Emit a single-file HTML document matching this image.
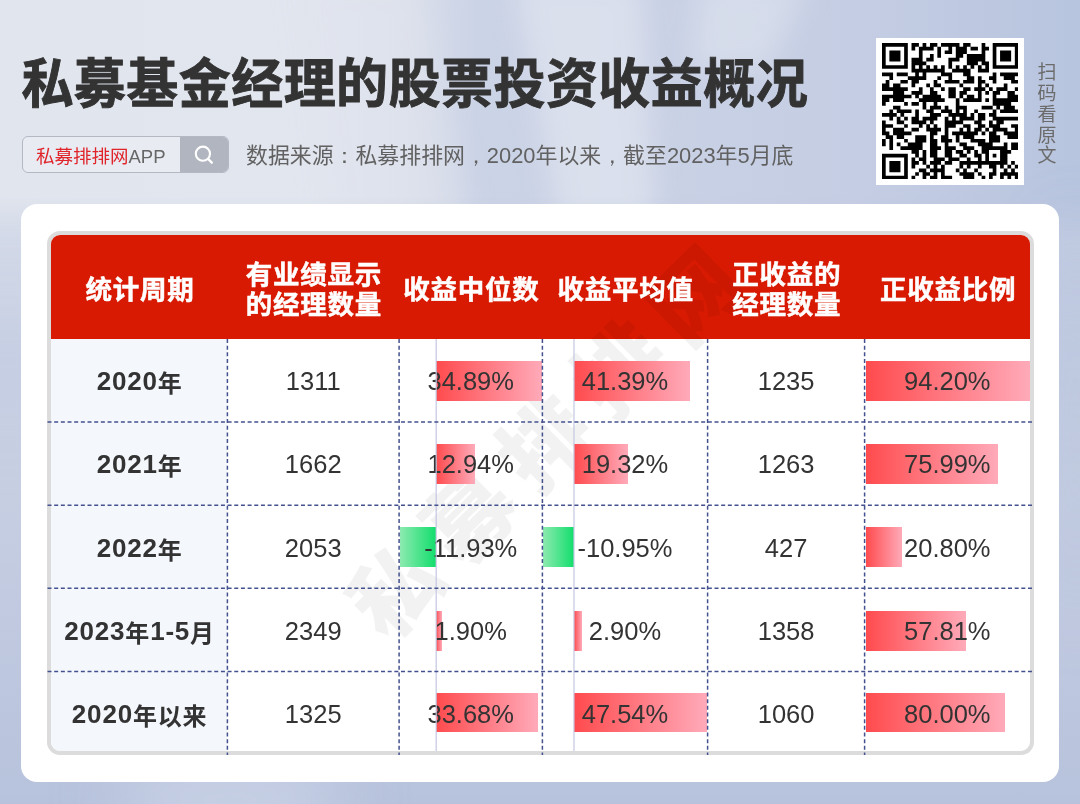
<!DOCTYPE html>
<html lang="zh-CN">
<head>
<meta charset="utf-8">
<title>私募基金经理的股票投资收益概况</title>
<style>
*{margin:0;padding:0;box-sizing:border-box;}
html,body{width:1080px;height:804px;overflow:hidden;}
body{position:relative;font-family:"Liberation Sans","Noto Sans CJK SC",sans-serif;color:#333;
background:#c8d0e3;}
.abs{position:absolute;}
.p{font-family:"WenQuanYi Zen Hei",sans-serif;}
#title{left:21.4px;top:47px;font-size:52px;font-weight:bold;-webkit-text-stroke:0.9px #333;line-height:72px;white-space:nowrap;color:#333;letter-spacing:0.45px;transform:scaleY(1.037);transform-origin:0 0;}
#search{left:22px;top:136px;width:207px;height:37px;border:1px solid #b3b8c3;border-radius:6px;background:#e8ebf2;overflow:hidden;}
#search .t{position:absolute;left:13px;top:3px;line-height:34px;font-size:18.5px;color:#666;white-space:nowrap;}
#search .t b{font-weight:normal;color:#e0242a;}
#search .btn{position:absolute;right:0;top:0;width:48px;height:35px;background:#b0b5bf;}
#src{left:246px;top:140px;font-size:21.9px;line-height:32px;color:#616161;white-space:nowrap;}
#qr{left:876px;top:38px;width:148px;height:147px;background:#fff;}
#scan{left:1036px;top:63px;width:22px;font-size:19px;line-height:20.85px;color:#6b6b6b;text-align:center;}
#card{left:21px;top:204px;width:1037.5px;height:578px;background:#fff;border-radius:16px;}
#tbl{left:47px;top:231px;width:987px;height:524px;border:4px solid #dcdcdc;border-radius:13px;overflow:hidden;background:#fff;}
#hdr{left:0;top:0;width:979px;height:104px;background:#d81a02;}
.h{position:absolute;top:235px;height:104px;display:flex;align-items:center;justify-content:center;text-align:center;color:#fff;font-weight:bold;-webkit-text-stroke:0.5px #fff;font-size:26.5px;line-height:29.5px;letter-spacing:0.75px;padding-top:7.4px;padding-left:1.5px;}
.c1bg{position:absolute;left:0;top:104px;width:176px;height:420px;background:#f4f7fc;}
.cell{position:absolute;height:40px;padding-top:2px;display:flex;align-items:center;justify-content:center;font-size:25.5px;color:#333;white-space:nowrap;}
.lab{font-weight:bold;font-size:26px;letter-spacing:0.8px;padding-left:0.8px;}
.lab i{font-style:normal;font-size:24px;}
.bar{position:absolute;height:40px;}
.r{background:linear-gradient(90deg,#ff4b4e,#ffaab9);}
.g{background:linear-gradient(90deg,#8deab0,#12de6c);}
#wm{left:541px;top:439px;transform:translate(-50%,-50%) rotate(-44.5deg);font-size:88px;font-weight:900;letter-spacing:17px;color:rgba(0,0,0,0.05);white-space:nowrap;line-height:1;padding-left:17px;font-family:"Noto Sans CJK SC",sans-serif;}
</style>
</head>
<body>
<!--BG--><svg class="abs" style="left:0;top:0;" width="1080" height="804" viewBox="0 0 1080 804">
<defs>
<linearGradient id="gh" x1="0" x2="1" y1="0" y2="0">
<stop offset="0" stop-color="#e1e5ee"/><stop offset="0.3" stop-color="#e2e6ef"/><stop offset="0.37" stop-color="#dce1ec"/><stop offset="0.44" stop-color="#cbd3e6"/><stop offset="0.62" stop-color="#c9d1e5"/><stop offset="0.8" stop-color="#c4cde3"/><stop offset="0.93" stop-color="#bcc7e0"/><stop offset="1" stop-color="#b8c5df"/>
</linearGradient>
<linearGradient id="gv" x1="0" x2="0" y1="0" y2="1">
<stop offset="0" stop-color="#c0cae0" stop-opacity="0"/><stop offset="0.245" stop-color="#c0cae0" stop-opacity="0"/><stop offset="0.3" stop-color="#c8d0e3" stop-opacity="0.6"/><stop offset="0.44" stop-color="#c4cde2" stop-opacity="0.95"/><stop offset="0.62" stop-color="#c6cee2" stop-opacity="1"/><stop offset="1" stop-color="#b7c2dc" stop-opacity="1"/>
</linearGradient>
<filter id="bl" x="-50%" y="-50%" width="200%" height="200%"><feGaussianBlur stdDeviation="14"/></filter>
<filter id="bl2" x="-50%" y="-50%" width="200%" height="200%"><feGaussianBlur stdDeviation="30"/></filter>
</defs>
<rect width="1080" height="804" fill="url(#gh)"/>
<g filter="url(#bl)">
<polygon points="515,-20 640,-20 655,230 560,230" fill="#e6eaf2" opacity="0.6"/>
<polygon points="700,-20 810,-20 770,70 690,70" fill="#e6eaf2" opacity="0.45"/>
<polygon points="300,-20 420,-20 470,230 330,230" fill="#e0e4ee" opacity="0.5"/>
</g>
<rect width="1080" height="804" fill="url(#gv)"/>
<g filter="url(#bl2)">
<ellipse cx="230" cy="800" rx="120" ry="30" fill="#d0d8ea" opacity="0.8"/>
<ellipse cx="1075" cy="420" rx="20" ry="200" fill="#b3bfda" opacity="0.6"/>
</g>
</svg><!--/BG-->
<div id="title" class="abs">私募基金经理的股票投资收益概况</div>
<div id="search" class="abs"><div class="t"><b>私募排排网</b>APP</div><div class="btn">
<svg width="48" height="35" viewBox="0 0 48 35"><circle cx="22.9" cy="16.7" r="7.1" fill="none" stroke="#fff" stroke-width="2.1"/><line x1="28.2" y1="22" x2="31.8" y2="25.7" stroke="#fff" stroke-width="2.4" stroke-linecap="round"/></svg></div></div>
<div id="src" class="abs">数据来源<span class="p">：</span>私募排排网<span class="p">，</span>2020年以来<span class="p">，</span>截至2023年5月底</div>
<div id="qr" class="abs"></div>
<!--QR--><svg class="abs" style="left:881.8px;top:42.8px;" width="136.53" height="136.53" viewBox="0 0 136.53 136.53"><path fill="#000" d="M0.00 0.00h25.83v3.69h-25.83zM29.52 0.00h7.38v3.69h-7.38zM40.59 0.00h3.69v3.69h-3.69zM47.97 0.00h7.38v3.69h-7.38zM59.04 0.00h18.45v3.69h-18.45zM81.18 0.00h7.38v3.69h-7.38zM99.63 0.00h3.69v3.69h-3.69zM110.70 0.00h25.83v3.69h-25.83zM0.00 3.69h3.69v3.69h-3.69zM22.14 3.69h3.69v3.69h-3.69zM29.52 3.69h3.69v3.69h-3.69zM36.90 3.69h14.76v3.69h-14.76zM55.35 3.69h3.69v3.69h-3.69zM66.42 3.69h3.69v3.69h-3.69zM73.80 3.69h11.07v3.69h-11.07zM88.56 3.69h7.38v3.69h-7.38zM99.63 3.69h7.38v3.69h-7.38zM110.70 3.69h3.69v3.69h-3.69zM132.84 3.69h3.69v3.69h-3.69zM0.00 7.38h3.69v3.69h-3.69zM7.38 7.38h11.07v3.69h-11.07zM22.14 7.38h3.69v3.69h-3.69zM36.90 7.38h3.69v3.69h-3.69zM55.35 7.38h3.69v3.69h-3.69zM62.73 7.38h7.38v3.69h-7.38zM73.80 7.38h11.07v3.69h-11.07zM99.63 7.38h3.69v3.69h-3.69zM110.70 7.38h3.69v3.69h-3.69zM118.08 7.38h11.07v3.69h-11.07zM132.84 7.38h3.69v3.69h-3.69zM0.00 11.07h3.69v3.69h-3.69zM7.38 11.07h11.07v3.69h-11.07zM22.14 11.07h3.69v3.69h-3.69zM36.90 11.07h3.69v3.69h-3.69zM47.97 11.07h3.69v3.69h-3.69zM55.35 11.07h3.69v3.69h-3.69zM73.80 11.07h7.38v3.69h-7.38zM84.87 11.07h18.45v3.69h-18.45zM110.70 11.07h3.69v3.69h-3.69zM118.08 11.07h11.07v3.69h-11.07zM132.84 11.07h3.69v3.69h-3.69zM0.00 14.76h3.69v3.69h-3.69zM7.38 14.76h11.07v3.69h-11.07zM22.14 14.76h3.69v3.69h-3.69zM29.52 14.76h11.07v3.69h-11.07zM44.28 14.76h7.38v3.69h-7.38zM66.42 14.76h11.07v3.69h-11.07zM84.87 14.76h18.45v3.69h-18.45zM110.70 14.76h3.69v3.69h-3.69zM118.08 14.76h11.07v3.69h-11.07zM132.84 14.76h3.69v3.69h-3.69zM0.00 18.45h3.69v3.69h-3.69zM22.14 18.45h3.69v3.69h-3.69zM29.52 18.45h14.76v3.69h-14.76zM66.42 18.45h3.69v3.69h-3.69zM84.87 18.45h11.07v3.69h-11.07zM99.63 18.45h7.38v3.69h-7.38zM110.70 18.45h3.69v3.69h-3.69zM132.84 18.45h3.69v3.69h-3.69zM0.00 22.14h25.83v3.69h-25.83zM29.52 22.14h3.69v3.69h-3.69zM36.90 22.14h3.69v3.69h-3.69zM44.28 22.14h3.69v3.69h-3.69zM51.66 22.14h3.69v3.69h-3.69zM59.04 22.14h3.69v3.69h-3.69zM66.42 22.14h3.69v3.69h-3.69zM73.80 22.14h3.69v3.69h-3.69zM81.18 22.14h3.69v3.69h-3.69zM88.56 22.14h3.69v3.69h-3.69zM95.94 22.14h3.69v3.69h-3.69zM103.32 22.14h3.69v3.69h-3.69zM110.70 22.14h25.83v3.69h-25.83zM29.52 25.83h33.21v3.69h-33.21zM70.11 25.83h18.45v3.69h-18.45zM95.94 25.83h11.07v3.69h-11.07zM0.00 29.52h11.07v3.69h-11.07zM14.76 29.52h11.07v3.69h-11.07zM33.21 29.52h3.69v3.69h-3.69zM40.59 29.52h3.69v3.69h-3.69zM59.04 29.52h11.07v3.69h-11.07zM81.18 29.52h7.38v3.69h-7.38zM110.70 29.52h3.69v3.69h-3.69zM118.08 29.52h18.45v3.69h-18.45zM7.38 33.21h3.69v3.69h-3.69zM25.83 33.21h18.45v3.69h-18.45zM55.35 33.21h3.69v3.69h-3.69zM66.42 33.21h3.69v3.69h-3.69zM84.87 33.21h7.38v3.69h-7.38zM95.94 33.21h3.69v3.69h-3.69zM107.01 33.21h7.38v3.69h-7.38zM121.77 33.21h11.07v3.69h-11.07zM3.69 36.90h3.69v3.69h-3.69zM18.45 36.90h7.38v3.69h-7.38zM29.52 36.90h7.38v3.69h-7.38zM51.66 36.90h3.69v3.69h-3.69zM62.73 36.90h14.76v3.69h-14.76zM81.18 36.90h11.07v3.69h-11.07zM95.94 36.90h7.38v3.69h-7.38zM110.70 36.90h3.69v3.69h-3.69zM129.15 36.90h7.38v3.69h-7.38zM0.00 40.59h7.38v3.69h-7.38zM11.07 40.59h7.38v3.69h-7.38zM29.52 40.59h3.69v3.69h-3.69zM44.28 40.59h3.69v3.69h-3.69zM51.66 40.59h7.38v3.69h-7.38zM77.49 40.59h3.69v3.69h-3.69zM95.94 40.59h3.69v3.69h-3.69zM103.32 40.59h3.69v3.69h-3.69zM121.77 40.59h3.69v3.69h-3.69zM0.00 44.28h25.83v3.69h-25.83zM36.90 44.28h3.69v3.69h-3.69zM47.97 44.28h3.69v3.69h-3.69zM59.04 44.28h3.69v3.69h-3.69zM66.42 44.28h7.38v3.69h-7.38zM81.18 44.28h7.38v3.69h-7.38zM92.25 44.28h11.07v3.69h-11.07zM107.01 44.28h3.69v3.69h-3.69zM114.39 44.28h11.07v3.69h-11.07zM132.84 44.28h3.69v3.69h-3.69zM11.07 47.97h11.07v3.69h-11.07zM29.52 47.97h11.07v3.69h-11.07zM47.97 47.97h7.38v3.69h-7.38zM66.42 47.97h7.38v3.69h-7.38zM77.49 47.97h7.38v3.69h-7.38zM95.94 47.97h3.69v3.69h-3.69zM103.32 47.97h3.69v3.69h-3.69zM110.70 47.97h7.38v3.69h-7.38zM125.46 47.97h7.38v3.69h-7.38zM0.00 51.66h29.52v3.69h-29.52zM33.21 51.66h3.69v3.69h-3.69zM40.59 51.66h18.45v3.69h-18.45zM66.42 51.66h7.38v3.69h-7.38zM77.49 51.66h3.69v3.69h-3.69zM84.87 51.66h7.38v3.69h-7.38zM95.94 51.66h3.69v3.69h-3.69zM110.70 51.66h3.69v3.69h-3.69zM125.46 51.66h11.07v3.69h-11.07zM0.00 55.35h7.38v3.69h-7.38zM11.07 55.35h11.07v3.69h-11.07zM36.90 55.35h25.83v3.69h-25.83zM73.80 55.35h3.69v3.69h-3.69zM81.18 55.35h18.45v3.69h-18.45zM103.32 55.35h3.69v3.69h-3.69zM110.70 55.35h25.83v3.69h-25.83zM0.00 59.04h3.69v3.69h-3.69zM22.14 59.04h3.69v3.69h-3.69zM29.52 59.04h7.38v3.69h-7.38zM40.59 59.04h3.69v3.69h-3.69zM51.66 59.04h3.69v3.69h-3.69zM73.80 59.04h3.69v3.69h-3.69zM110.70 59.04h18.45v3.69h-18.45zM11.07 62.73h7.38v3.69h-7.38zM40.59 62.73h3.69v3.69h-3.69zM47.97 62.73h11.07v3.69h-11.07zM62.73 62.73h3.69v3.69h-3.69zM73.80 62.73h11.07v3.69h-11.07zM99.63 62.73h11.07v3.69h-11.07zM114.39 62.73h3.69v3.69h-3.69zM121.77 62.73h11.07v3.69h-11.07zM7.38 66.42h3.69v3.69h-3.69zM14.76 66.42h14.76v3.69h-14.76zM33.21 66.42h3.69v3.69h-3.69zM44.28 66.42h7.38v3.69h-7.38zM59.04 66.42h11.07v3.69h-11.07zM73.80 66.42h3.69v3.69h-3.69zM81.18 66.42h3.69v3.69h-3.69zM92.25 66.42h3.69v3.69h-3.69zM110.70 66.42h3.69v3.69h-3.69zM118.08 66.42h18.45v3.69h-18.45zM0.00 70.11h14.76v3.69h-14.76zM18.45 70.11h3.69v3.69h-3.69zM33.21 70.11h3.69v3.69h-3.69zM47.97 70.11h11.07v3.69h-11.07zM66.42 70.11h18.45v3.69h-18.45zM88.56 70.11h3.69v3.69h-3.69zM95.94 70.11h7.38v3.69h-7.38zM107.01 70.11h7.38v3.69h-7.38zM7.38 73.80h3.69v3.69h-3.69zM14.76 73.80h3.69v3.69h-3.69zM22.14 73.80h3.69v3.69h-3.69zM29.52 73.80h7.38v3.69h-7.38zM40.59 73.80h14.76v3.69h-14.76zM62.73 73.80h3.69v3.69h-3.69zM70.11 73.80h3.69v3.69h-3.69zM77.49 73.80h14.76v3.69h-14.76zM95.94 73.80h7.38v3.69h-7.38zM110.70 73.80h25.83v3.69h-25.83zM0.00 77.49h3.69v3.69h-3.69zM14.76 77.49h7.38v3.69h-7.38zM29.52 77.49h14.76v3.69h-14.76zM47.97 77.49h3.69v3.69h-3.69zM62.73 77.49h18.45v3.69h-18.45zM92.25 77.49h7.38v3.69h-7.38zM107.01 77.49h3.69v3.69h-3.69zM114.39 77.49h7.38v3.69h-7.38zM0.00 81.18h11.07v3.69h-11.07zM22.14 81.18h3.69v3.69h-3.69zM36.90 81.18h3.69v3.69h-3.69zM44.28 81.18h3.69v3.69h-3.69zM51.66 81.18h3.69v3.69h-3.69zM62.73 81.18h11.07v3.69h-11.07zM81.18 81.18h7.38v3.69h-7.38zM95.94 81.18h7.38v3.69h-7.38zM107.01 81.18h11.07v3.69h-11.07zM129.15 81.18h7.38v3.69h-7.38zM0.00 84.87h3.69v3.69h-3.69zM11.07 84.87h11.07v3.69h-11.07zM29.52 84.87h7.38v3.69h-7.38zM44.28 84.87h14.76v3.69h-14.76zM62.73 84.87h3.69v3.69h-3.69zM77.49 84.87h3.69v3.69h-3.69zM84.87 84.87h3.69v3.69h-3.69zM92.25 84.87h7.38v3.69h-7.38zM103.32 84.87h3.69v3.69h-3.69zM110.70 84.87h14.76v3.69h-14.76zM132.84 84.87h3.69v3.69h-3.69zM0.00 88.56h7.38v3.69h-7.38zM11.07 88.56h18.45v3.69h-18.45zM47.97 88.56h7.38v3.69h-7.38zM62.73 88.56h3.69v3.69h-3.69zM70.11 88.56h25.83v3.69h-25.83zM99.63 88.56h3.69v3.69h-3.69zM107.01 88.56h7.38v3.69h-7.38zM121.77 88.56h14.76v3.69h-14.76zM3.69 92.25h7.38v3.69h-7.38zM14.76 92.25h7.38v3.69h-7.38zM33.21 92.25h11.07v3.69h-11.07zM47.97 92.25h3.69v3.69h-3.69zM59.04 92.25h7.38v3.69h-7.38zM73.80 92.25h3.69v3.69h-3.69zM81.18 92.25h11.07v3.69h-11.07zM107.01 92.25h11.07v3.69h-11.07zM125.46 92.25h11.07v3.69h-11.07zM0.00 95.94h3.69v3.69h-3.69zM7.38 95.94h3.69v3.69h-3.69zM22.14 95.94h3.69v3.69h-3.69zM33.21 95.94h11.07v3.69h-11.07zM47.97 95.94h7.38v3.69h-7.38zM59.04 95.94h11.07v3.69h-11.07zM73.80 95.94h3.69v3.69h-3.69zM88.56 95.94h14.76v3.69h-14.76zM107.01 95.94h11.07v3.69h-11.07zM0.00 99.63h3.69v3.69h-3.69zM7.38 99.63h3.69v3.69h-3.69zM14.76 99.63h3.69v3.69h-3.69zM25.83 99.63h14.76v3.69h-14.76zM47.97 99.63h7.38v3.69h-7.38zM62.73 99.63h3.69v3.69h-3.69zM77.49 99.63h7.38v3.69h-7.38zM95.94 99.63h14.76v3.69h-14.76zM121.77 99.63h3.69v3.69h-3.69zM129.15 99.63h7.38v3.69h-7.38zM7.38 103.32h3.69v3.69h-3.69zM18.45 103.32h22.14v3.69h-22.14zM47.97 103.32h11.07v3.69h-11.07zM62.73 103.32h11.07v3.69h-11.07zM81.18 103.32h11.07v3.69h-11.07zM99.63 103.32h25.83v3.69h-25.83zM129.15 103.32h7.38v3.69h-7.38zM29.52 107.01h7.38v3.69h-7.38zM40.59 107.01h3.69v3.69h-3.69zM47.97 107.01h7.38v3.69h-7.38zM62.73 107.01h7.38v3.69h-7.38zM73.80 107.01h7.38v3.69h-7.38zM84.87 107.01h3.69v3.69h-3.69zM92.25 107.01h3.69v3.69h-3.69zM99.63 107.01h7.38v3.69h-7.38zM118.08 107.01h11.07v3.69h-11.07zM0.00 110.70h25.83v3.69h-25.83zM33.21 110.70h3.69v3.69h-3.69zM40.59 110.70h3.69v3.69h-3.69zM47.97 110.70h7.38v3.69h-7.38zM62.73 110.70h7.38v3.69h-7.38zM77.49 110.70h7.38v3.69h-7.38zM92.25 110.70h7.38v3.69h-7.38zM103.32 110.70h3.69v3.69h-3.69zM110.70 110.70h3.69v3.69h-3.69zM118.08 110.70h7.38v3.69h-7.38zM0.00 114.39h3.69v3.69h-3.69zM22.14 114.39h3.69v3.69h-3.69zM29.52 114.39h3.69v3.69h-3.69zM36.90 114.39h7.38v3.69h-7.38zM51.66 114.39h11.07v3.69h-11.07zM66.42 114.39h11.07v3.69h-11.07zM84.87 114.39h3.69v3.69h-3.69zM95.94 114.39h3.69v3.69h-3.69zM103.32 114.39h3.69v3.69h-3.69zM118.08 114.39h7.38v3.69h-7.38zM0.00 118.08h3.69v3.69h-3.69zM7.38 118.08h11.07v3.69h-11.07zM22.14 118.08h3.69v3.69h-3.69zM29.52 118.08h7.38v3.69h-7.38zM40.59 118.08h3.69v3.69h-3.69zM47.97 118.08h11.07v3.69h-11.07zM62.73 118.08h7.38v3.69h-7.38zM77.49 118.08h47.97v3.69h-47.97zM129.15 118.08h3.69v3.69h-3.69zM0.00 121.77h3.69v3.69h-3.69zM7.38 121.77h11.07v3.69h-11.07zM22.14 121.77h3.69v3.69h-3.69zM29.52 121.77h3.69v3.69h-3.69zM44.28 121.77h3.69v3.69h-3.69zM51.66 121.77h3.69v3.69h-3.69zM59.04 121.77h3.69v3.69h-3.69zM77.49 121.77h3.69v3.69h-3.69zM84.87 121.77h3.69v3.69h-3.69zM95.94 121.77h3.69v3.69h-3.69zM107.01 121.77h7.38v3.69h-7.38zM118.08 121.77h3.69v3.69h-3.69zM125.46 121.77h3.69v3.69h-3.69zM132.84 121.77h3.69v3.69h-3.69zM0.00 125.46h3.69v3.69h-3.69zM7.38 125.46h11.07v3.69h-11.07zM22.14 125.46h3.69v3.69h-3.69zM36.90 125.46h7.38v3.69h-7.38zM47.97 125.46h14.76v3.69h-14.76zM73.80 125.46h3.69v3.69h-3.69zM81.18 125.46h3.69v3.69h-3.69zM92.25 125.46h3.69v3.69h-3.69zM110.70 125.46h3.69v3.69h-3.69zM121.77 125.46h3.69v3.69h-3.69zM129.15 125.46h3.69v3.69h-3.69zM0.00 129.15h3.69v3.69h-3.69zM22.14 129.15h3.69v3.69h-3.69zM33.21 129.15h3.69v3.69h-3.69zM40.59 129.15h7.38v3.69h-7.38zM51.66 129.15h3.69v3.69h-3.69zM59.04 129.15h3.69v3.69h-3.69zM77.49 129.15h14.76v3.69h-14.76zM95.94 129.15h3.69v3.69h-3.69zM107.01 129.15h7.38v3.69h-7.38zM118.08 129.15h18.45v3.69h-18.45zM0.00 132.84h25.83v3.69h-25.83zM29.52 132.84h3.69v3.69h-3.69zM40.59 132.84h3.69v3.69h-3.69zM47.97 132.84h7.38v3.69h-7.38zM59.04 132.84h11.07v3.69h-11.07zM81.18 132.84h11.07v3.69h-11.07zM99.63 132.84h3.69v3.69h-3.69zM107.01 132.84h3.69v3.69h-3.69zM118.08 132.84h3.69v3.69h-3.69zM125.46 132.84h3.69v3.69h-3.69zM132.84 132.84h3.69v3.69h-3.69z"/></svg><!--/QR-->
<div id="scan" class="abs">扫<br>码<br>看<br>原<br>文</div>
<div id="card" class="abs"></div>
<div id="tbl" class="abs">
  <div id="hdr" class="abs"></div>
  <div class="c1bg"></div>
</div>
<div id="wm" class="abs">私募排排网</div>
<!--T-->
<div class="h" style="left:51.0px;width:176.4px;">统计周期</div>
<div class="h" style="left:227.4px;width:171.7px;">有业绩显示<br>的经理数量</div>
<div class="h" style="left:399.1px;width:143.3px;">收益中位数</div>
<div class="h" style="left:542.4px;width:165.2px;">收益平均值</div>
<div class="h" style="left:707.6px;width:157.0px;">正收益的<br>经理数量</div>
<div class="h" style="left:864.6px;width:165.4px;">正收益比例</div>
<div class="bar r" style="left:436.18px;top:360.85px;width:105.82px;height:40px;"></div>
<div class="bar r" style="left:573.98px;top:360.85px;width:115.98px;height:40px;"></div>
<div class="bar r" style="left:865.50px;top:360.85px;width:164.50px;height:40px;"></div>
<div class="cell lab" style="left:51.0px;width:176.4px;top:360.85px;">2020<i>年</i></div>
<div class="cell" style="left:227.4px;width:171.7px;top:360.85px;">1311</div>
<div class="cell" style="left:399.1px;width:143.3px;top:360.85px;">34.89%</div>
<div class="cell" style="left:542.4px;width:165.2px;top:360.85px;">41.39%</div>
<div class="cell" style="left:707.6px;width:157.0px;top:360.85px;">1235</div>
<div class="cell" style="left:864.6px;width:165.4px;top:360.85px;">94.20%</div>
<div class="bar r" style="left:436.18px;top:443.95px;width:39.25px;height:40px;"></div>
<div class="bar r" style="left:573.98px;top:443.95px;width:54.14px;height:40px;"></div>
<div class="bar r" style="left:865.50px;top:443.95px;width:132.70px;height:40px;"></div>
<div class="cell lab" style="left:51.0px;width:176.4px;top:443.95px;">2021<i>年</i></div>
<div class="cell" style="left:227.4px;width:171.7px;top:443.95px;">1662</div>
<div class="cell" style="left:399.1px;width:143.3px;top:443.95px;">12.94%</div>
<div class="cell" style="left:542.4px;width:165.2px;top:443.95px;">19.32%</div>
<div class="cell" style="left:707.6px;width:157.0px;top:443.95px;">1263</div>
<div class="cell" style="left:864.6px;width:165.4px;top:443.95px;">75.99%</div>
<div class="bar g" style="left:400.00px;top:527.05px;width:36.18px;height:40px;"></div>
<div class="bar g" style="left:543.30px;top:527.05px;width:30.68px;height:40px;"></div>
<div class="bar r" style="left:865.50px;top:527.05px;width:36.32px;height:40px;"></div>
<div class="cell lab" style="left:51.0px;width:176.4px;top:527.05px;">2022<i>年</i></div>
<div class="cell" style="left:227.4px;width:171.7px;top:527.05px;">2053</div>
<div class="cell" style="left:399.1px;width:143.3px;top:527.05px;">-11.93%</div>
<div class="cell" style="left:542.4px;width:165.2px;top:527.05px;">-10.95%</div>
<div class="cell" style="left:707.6px;width:157.0px;top:527.05px;">427</div>
<div class="cell" style="left:864.6px;width:165.4px;top:527.05px;">20.80%</div>
<div class="bar r" style="left:436.18px;top:610.65px;width:5.76px;height:40px;"></div>
<div class="bar r" style="left:573.98px;top:610.65px;width:8.13px;height:40px;"></div>
<div class="bar r" style="left:865.50px;top:610.65px;width:100.95px;height:40px;"></div>
<div class="cell lab" style="left:51.0px;width:176.4px;top:610.15px;">2023<i>年</i>1-5<i>月</i></div>
<div class="cell" style="left:227.4px;width:171.7px;top:610.15px;">2349</div>
<div class="cell" style="left:399.1px;width:143.3px;top:610.15px;">1.90%</div>
<div class="cell" style="left:542.4px;width:165.2px;top:610.15px;">2.90%</div>
<div class="cell" style="left:707.6px;width:157.0px;top:610.15px;">1358</div>
<div class="cell" style="left:864.6px;width:165.4px;top:610.15px;">57.81%</div>
<div class="bar r" style="left:436.18px;top:693.00px;width:102.15px;height:38.7px;"></div>
<div class="bar r" style="left:573.98px;top:693.00px;width:133.22px;height:38.7px;"></div>
<div class="bar r" style="left:865.50px;top:693.00px;width:139.70px;height:38.7px;"></div>
<div class="cell lab" style="left:51.0px;width:176.4px;top:693.25px;">2020<i>年以来</i></div>
<div class="cell" style="left:227.4px;width:171.7px;top:693.25px;">1325</div>
<div class="cell" style="left:399.1px;width:143.3px;top:693.25px;">33.68%</div>
<div class="cell" style="left:542.4px;width:165.2px;top:693.25px;">47.54%</div>
<div class="cell" style="left:707.6px;width:157.0px;top:693.25px;">1060</div>
<div class="cell" style="left:864.6px;width:165.4px;top:693.25px;">80.00%</div>
<svg class="abs" style="left:0;top:0;" width="1080" height="804" viewBox="0 0 1080 804"><line x1="436.18" y1="339.0" x2="436.18" y2="751" stroke="#c3c7e0" stroke-width="1.2"/><line x1="573.98" y1="339.0" x2="573.98" y2="751" stroke="#c3c7e0" stroke-width="1.2"/><line x1="227.4" y1="339.0" x2="227.4" y2="755" stroke="#44518f" stroke-width="1.5" stroke-dasharray="4 2.67"/><line x1="399.1" y1="339.0" x2="399.1" y2="755" stroke="#44518f" stroke-width="1.5" stroke-dasharray="4 2.67"/><line x1="542.4" y1="339.0" x2="542.4" y2="755" stroke="#44518f" stroke-width="1.5" stroke-dasharray="4 2.67"/><line x1="707.6" y1="339.0" x2="707.6" y2="755" stroke="#44518f" stroke-width="1.5" stroke-dasharray="4 2.67"/><line x1="864.6" y1="339.0" x2="864.6" y2="755" stroke="#44518f" stroke-width="1.5" stroke-dasharray="4 2.67"/><line x1="47.5" y1="422.10" x2="1034" y2="422.10" stroke="#44518f" stroke-width="1.5" stroke-dasharray="4 2.67"/><line x1="47.5" y1="505.20" x2="1034" y2="505.20" stroke="#44518f" stroke-width="1.5" stroke-dasharray="4 2.67"/><line x1="47.5" y1="588.30" x2="1034" y2="588.30" stroke="#44518f" stroke-width="1.5" stroke-dasharray="4 2.67"/><line x1="47.5" y1="671.40" x2="1034" y2="671.40" stroke="#44518f" stroke-width="1.5" stroke-dasharray="4 2.67"/></svg>
<!--/T-->
</body>
</html>
